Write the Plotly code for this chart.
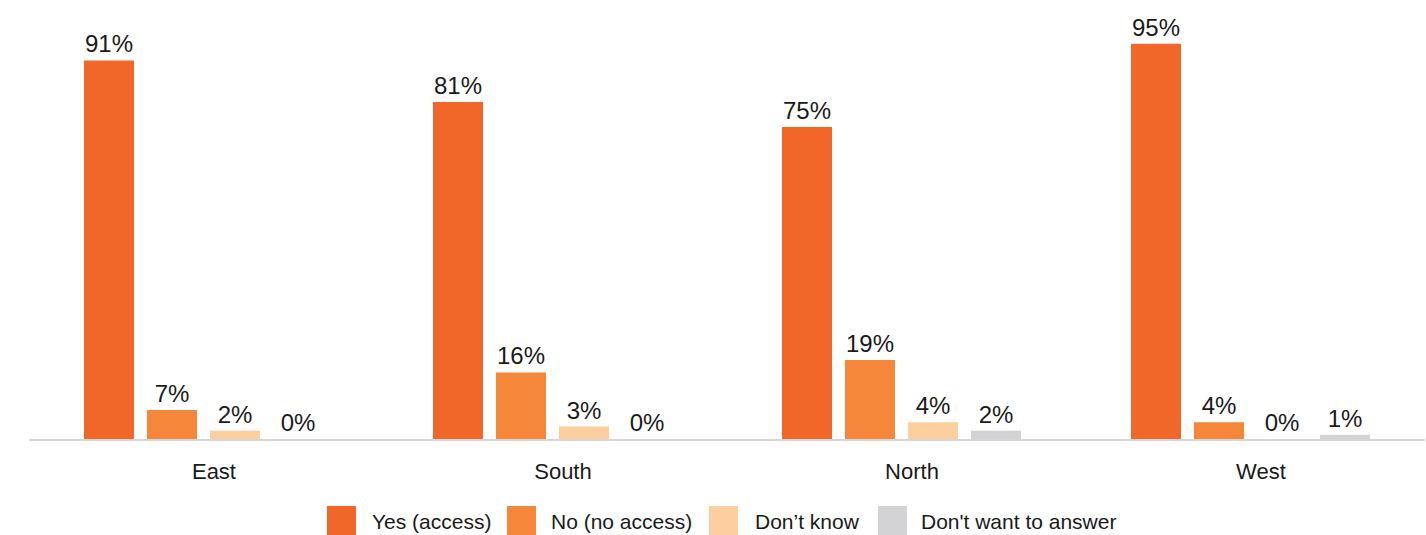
import plotly.graph_objects as go

# Survey results by region (percent of respondents)
regions = ["East", "South", "North", "West"]
series_names = ["Yes (access)", "No (no access)", "Don\u2019t know", "Don't want to answer"]
yes_access = [91, 81, 75, 95]
no_access = [7, 16, 19, 4]
dont_know = [2, 3, 4, 0]
dont_want = [0, 0, 2, 1]
colors = ["#F1672A", "#F48739", "#FDCE9E", "#D3D3D5"]

W, H = 1426, 535
M_L, M_R, M_T, M_B = 29, 1, 23, 96
plot_w = W - M_L - M_R
plot_h = H - M_T - M_B

FONT = "Liberation Sans, Arial, Helvetica, sans-serif"
x_pos = list(range(len(regions)))

fig = go.Figure()
for name, vals, col in zip(series_names, [yes_access, no_access, dont_know, dont_want], colors):
    fig.add_trace(go.Bar(
        x=x_pos, y=vals, name=name,
        marker=dict(color=col, line=dict(width=0)),
        text=[f"{v}%" for v in vals],
        textposition="outside",
        textfont=dict(family=FONT, size=24, color="#1A1A1A"),
        cliponaxis=False,
        showlegend=False,
    ))


def px_x(px):
    return (px - M_L) / plot_w


def px_y(py):
    return (H - M_B - py) / plot_h


# Legend row drawn below the axis with large colour swatches
legend_items = [(327, 370), (507, 549), (709, 753), (878, 919)]
shapes = []
annotations = []
for (sq_left, txt_left), name, col in zip(legend_items, series_names, colors):
    shapes.append(dict(type="rect", xref="paper", yref="paper",
                       x0=px_x(sq_left), x1=px_x(sq_left + 29),
                       y0=px_y(537), y1=px_y(506),
                       fillcolor=col, line=dict(width=0), layer="above"))
    annotations.append(dict(xref="paper", yref="paper", x=px_x(txt_left), y=px_y(521),
                            text=name, showarrow=False, xanchor="left", yanchor="middle",
                            font=dict(family=FONT, size=21, color="#1A1A1A")))

fig.update_layout(
    width=W, height=H,
    margin=dict(l=M_L, r=M_R, t=M_T, b=M_B, pad=0),
    paper_bgcolor="white", plot_bgcolor="white",
    barmode="group", bargap=0.278, bargroupgap=0.206,
    font=dict(family=FONT, color="#1A1A1A"),
    shapes=shapes, annotations=annotations,
    uniformtext=dict(mode=False),
)
fig.update_xaxes(
    range=[-0.5, len(regions) - 0.5],
    # category labels sit slightly right of each group's centre
    tickvals=[i + 0.03 for i in x_pos], ticktext=regions,
    ticks="", showgrid=False, zeroline=False,
    showline=True, linecolor="#D6D6D6", linewidth=2,
    tickfont=dict(family=FONT, size=22, color="#1A1A1A"),
    ticklabelstandoff=12,
)
fig.update_yaxes(range=[0, 100], visible=False, showgrid=False, zeroline=False)

fig.write_html("out.html")
